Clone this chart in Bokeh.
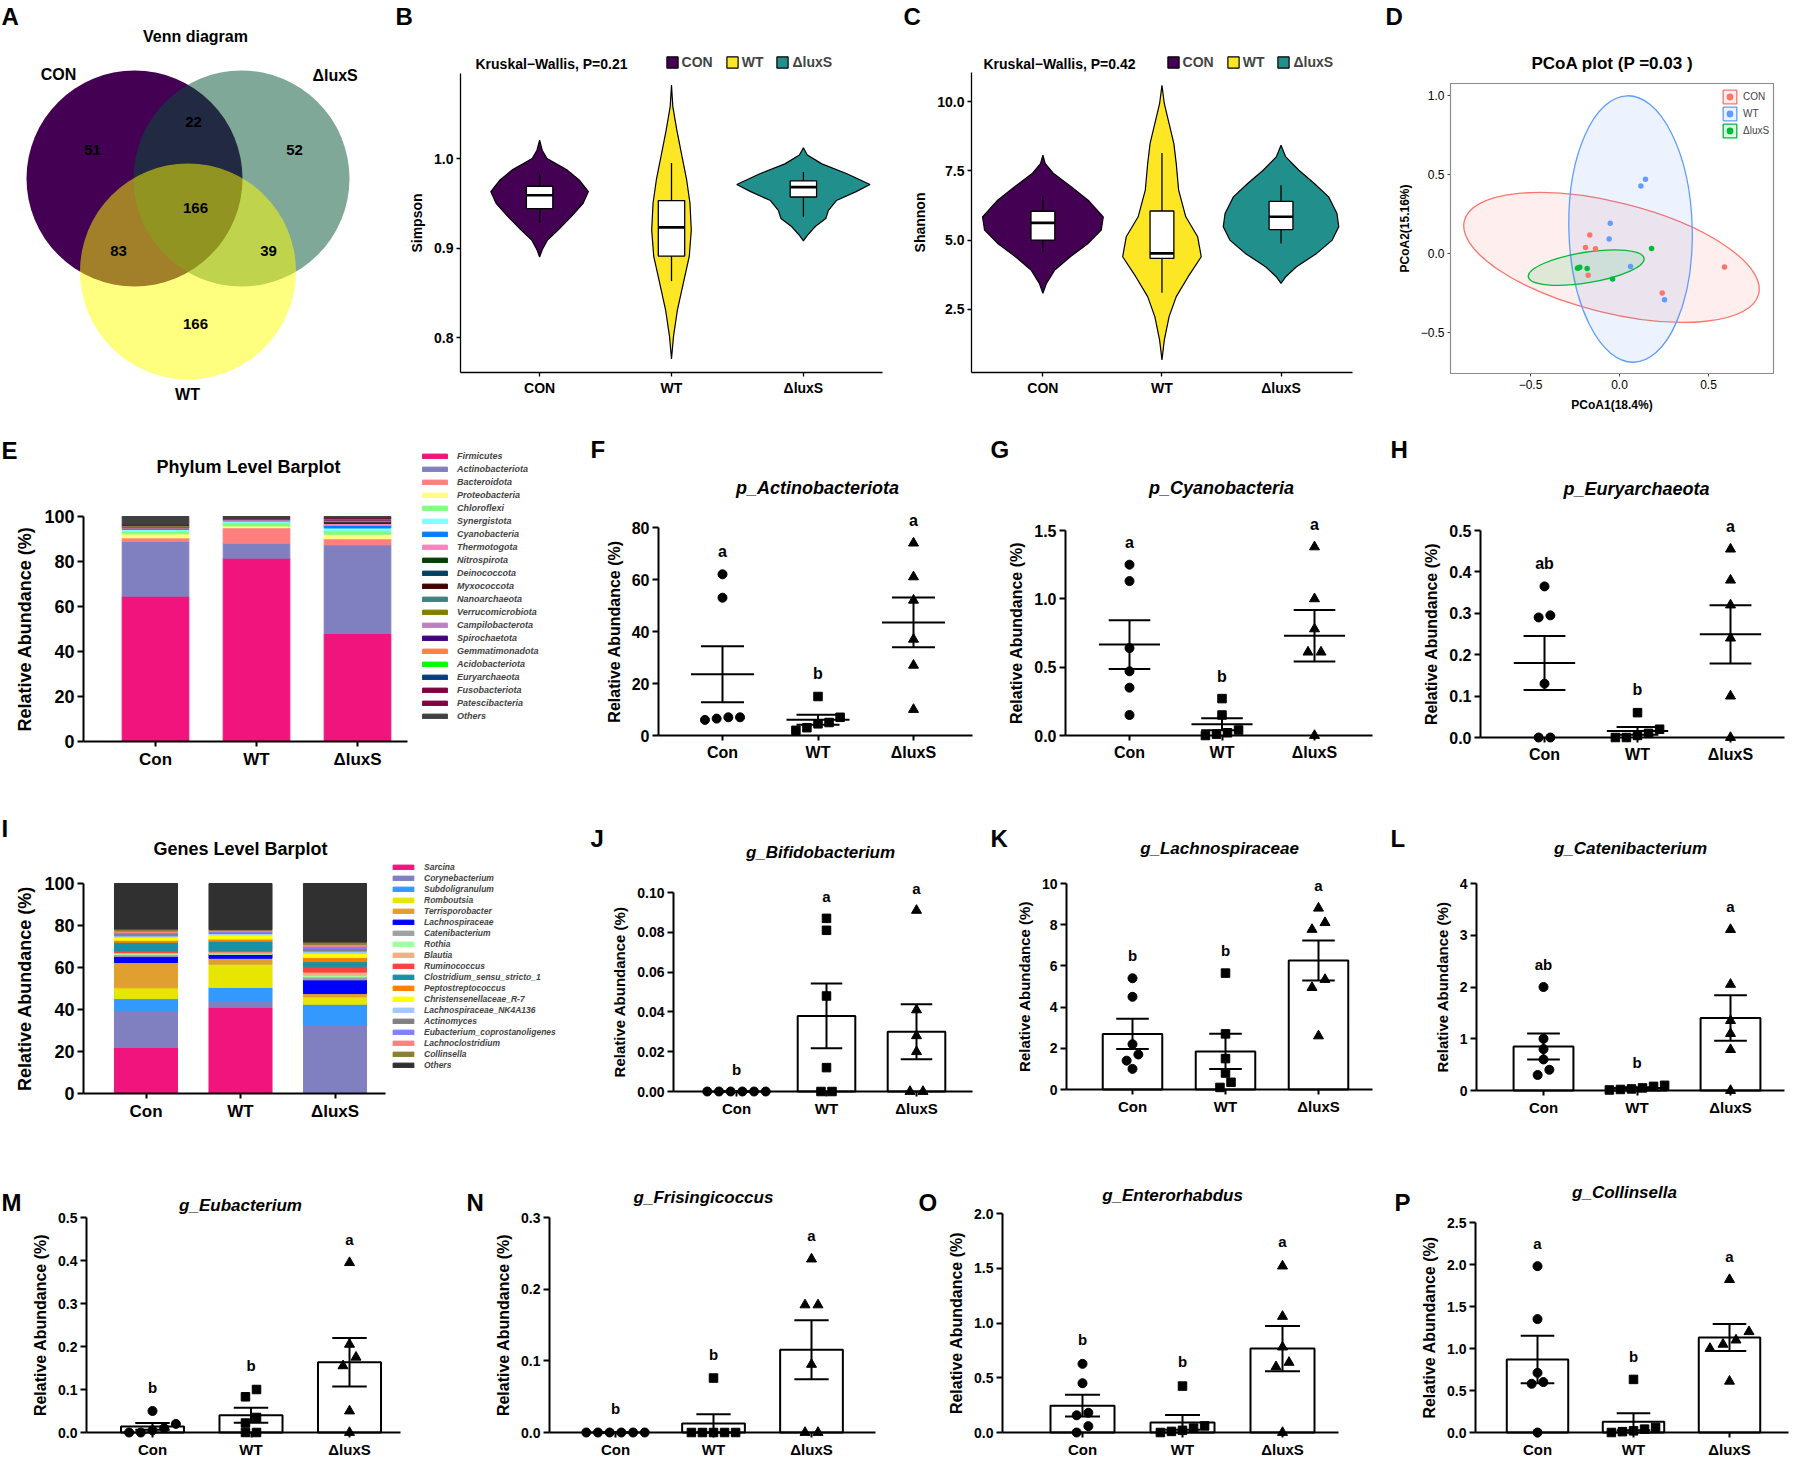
import numpy as np
from bokeh.plotting import figure
from bokeh.models import (Range1d, Label, LabelSet, Legend, LegendItem, FixedTicker,
                          BoxAnnotation, ColumnDataSource, PrintfTickFormatter)
from bokeh.layouts import row, column
from bokeh.embed import file_html
from bokeh.resources import INLINE
from bokeh.core.properties import value

FONT = "Liberation Sans"

# ====================== DATA ======================
groups_caps = ["CON", "WT", "ΔluxS"]
groups = ["Con", "WT", "ΔluxS"]
violin_colors = ["#440154", "#FDE725", "#21908C"]
pcoa_colors = ["#F8766D", "#619CFF", "#00BA38"]

# Venn diagram
venn_sets = ["CON", "ΔluxS", "WT"]
venn_set_colors = ["#440154", "#005131", "#FFFF00"]
venn_set_alpha = [1.0, 0.5, 0.5]
venn_regions = ["CON", "CON&ΔluxS", "ΔluxS", "CON&ΔluxS&WT", "CON&WT", "ΔluxS&WT", "WT"]
venn_counts = [51, 22, 52, 166, 83, 39, 166]

# Simpson violins: profile values and half widths (category units)
simpson_con_y = [1.0205, 1.0093, 1.000, 0.987, 0.976, 0.963, 0.950, 0.935, 0.920, 0.909, 0.898, 0.890]
simpson_con_w = [0, 0.02, 0.056, 0.21, 0.30, 0.37, 0.33, 0.24, 0.14, 0.06, 0.02, 0]
simpson_wt_y = [1.082, 1.058, 1.032, 1.002, 0.976, 0.950, 0.920, 0.891, 0.861, 0.831, 0.801, 0.776]
simpson_wt_w = [0, 0.01, 0.04, 0.08, 0.115, 0.14, 0.15, 0.135, 0.09, 0.045, 0.015, 0]
simpson_lux_y = [1.012, 1.004, 0.994, 0.983, 0.971, 0.963, 0.953, 0.942, 0.933, 0.924, 0.914, 0.908]
simpson_lux_w = [0, 0.03, 0.14, 0.33, 0.505, 0.40, 0.25, 0.19, 0.17, 0.09, 0.03, 0]
# box: whisker low, q1, median, q3, whisker high
simpson_box_con = [0.928, 0.944, 0.959, 0.969, 0.983]
simpson_box_wt = [0.863, 0.891, 0.923, 0.953, 0.995]
simpson_box_lux = [0.935, 0.957, 0.968, 0.975, 0.985]
simpson_p = "0.21"

shannon_con_y = [8.06, 7.76, 7.40, 6.92, 6.44, 5.84, 5.36, 4.88, 4.40, 3.92, 3.44, 3.08]
shannon_con_w = [0, 0.02, 0.09, 0.24, 0.38, 0.507, 0.49, 0.38, 0.23, 0.10, 0.03, 0]
shannon_wt_y = [10.58, 9.92, 9.20, 8.48, 7.76, 6.80, 5.84, 5.12, 4.40, 3.68, 2.96, 2.24, 1.40, 0.68]
shannon_wt_w = [0, 0.02, 0.06, 0.10, 0.12, 0.14, 0.20, 0.30, 0.33, 0.22, 0.12, 0.06, 0.02, 0]
shannon_lux_y = [8.42, 8.00, 7.52, 7.04, 6.56, 5.96, 5.48, 5.00, 4.52, 4.04, 3.68, 3.44]
shannon_lux_w = [0, 0.04, 0.15, 0.28, 0.40, 0.47, 0.485, 0.43, 0.30, 0.13, 0.04, 0]
shannon_box_con = [4.58, 5.00, 5.62, 6.04, 6.58]
shannon_box_wt = [3.10, 4.34, 4.52, 6.05, 8.14]
shannon_box_lux = [4.88, 5.38, 5.84, 6.40, 6.98]
shannon_p = "0.42"

# PCoA
pcoa_con_x = [-0.167, -0.191, -0.135, -0.176, 0.240, 0.590]
pcoa_con_y = [0.117, 0.038, 0.030, -0.138, -0.250, -0.085]
pcoa_wt_x = [0.146, 0.120, -0.052, -0.058, 0.062, 0.253]
pcoa_wt_y = [0.470, 0.428, 0.191, 0.091, -0.083, -0.292]
pcoa_lux_x = [0.180, -0.236, -0.223, -0.182, -0.039, -0.230]
pcoa_lux_y = [0.032, -0.093, -0.087, -0.095, -0.161, -0.090]
pcoa_ell_x = [-0.045, 0.062, -0.187]
pcoa_ell_y = [-0.025, 0.155, -0.089]
pcoa_ell_w = [1.704, 0.693, 0.659]
pcoa_ell_h = [0.699, 1.687, 0.193]
pcoa_ell_angle = [-0.244, 0.025, 0.16]
pcoa_p = "0.03"

# Phylum composition (%)
phylum_names = ["Firmicutes", "Actinobacteriota", "Bacteroidota", "Proteobacteria", "Chloroflexi",
                "Synergistota", "Cyanobacteria", "Thermotogota", "Nitrospirota", "Deinococcota",
                "Myxococcota", "Nanoarchaeota", "Verrucomicrobiota", "Campilobacterota",
                "Spirochaetota", "Gemmatimonadota", "Acidobacteriota", "Euryarchaeota",
                "Fusobacteriota", "Patescibacteria", "Others"]
phylum_colors = ["#F0147C", "#8080C0", "#FF7F7F", "#FFFF80", "#80FF80", "#80FFFF", "#0080FF",
                 "#FF80C0", "#004000", "#004060", "#400000", "#408080", "#808000", "#C080C0",
                 "#400080", "#FF8040", "#00FF00", "#004080", "#800040", "#800040", "#404040"]
phylum_con = [64.6, 24.3, 1.6, 1.8, 1.2, 0.8, 0.4, 0.3, 0.1, 0.1, 0.1, 0.1, 0.1, 0.2, 0.1, 0.1, 0.1, 0.1, 0.1, 0.1, 3.7]
phylum_wt = [81.5, 6.6, 6.9, 0.8, 1.6, 0.6, 0.3, 0.3, 0.1, 0.1, 0.1, 0.1, 0.1, 0.1, 0.05, 0.05, 0.05, 0.05, 0.05, 0.05, 0.5]
phylum_lux = [48.0, 39.4, 2.7, 2.0, 1.8, 1.0, 1.2, 0.8, 0.3, 0.2, 0.2, 0.2, 0.2, 0.3, 0.2, 0.2, 0.2, 0.3, 0.1, 0.1, 0.6]

# Genus composition (%)
genus_names = ["Sarcina", "Corynebacterium", "Subdoligranulum", "Romboutsia", "Terrisporobacter",
               "Lachnospiraceae", "Catenibacterium", "Rothia", "Blautia", "Ruminococcus",
               "Clostridium_sensu_stricto_1", "Peptostreptococcus", "Christensenellaceae_R-7",
               "Lachnospiraceae_NK4A136", "Actinomyces", "Eubacterium_coprostanoligenes",
               "Lachnoclostridium", "Collinsella", "Others"]
genus_colors = ["#F0147C", "#8080C0", "#3399FF", "#E6E600", "#E0A030", "#0000FF", "#A0A0A0",
                "#A0FFA0", "#F0B080", "#FF4040", "#1890A8", "#FF8000", "#FFFF00", "#A0C8FF",
                "#808080", "#8080FF", "#FF8080", "#8C7E30", "#303030"]
genus_con = [21.9, 17.5, 5.8, 5.1, 12.1, 2.8, 0.9, 0.5, 0.6, 0.8, 4.0, 1.0, 1.5, 0.6, 1.0, 0.5, 0.8, 0.9, 21.7]
genus_wt = [41.0, 3.0, 6.5, 11.1, 2.8, 1.9, 0.05, 0.3, 0.8, 0.6, 4.5, 1.0, 2.0, 0.7, 0.5, 0.5, 0.6, 0.15, 22.0]
genus_lux = [0.0, 32.5, 10.0, 3.5, 1.6, 6.5, 1.4, 0.8, 1.5, 2.5, 2.5, 2.0, 2.0, 1.0, 1.3, 1.0, 0.9, 1.1, 27.9]

# Individual relative abundances (%), 6 animals per group
actino_con = [62, 53, 7, 7, 6.5, 6]
actino_wt = [15, 7, 5, 4.5, 3, 2]
actino_lux = [74, 61, 52, 37, 27, 10]
actino_sig = ["a", "b", "a"]
cyano_con = [1.25, 1.13, 0.64, 0.47, 0.35, 0.15]
cyano_wt = [0.27, 0.15, 0.04, 0.02, 0.01, 0.0]
cyano_lux = [1.38, 1.0, 0.78, 0.61, 0.61, 0.0]
cyano_sig = ["a", "b", "a"]
eury_con = [0.365, 0.295, 0.29, 0.13, 0.0, 0.0]
eury_wt = [0.06, 0.02, 0.01, 0.005, 0.0, 0.0]
eury_lux = [0.455, 0.38, 0.32, 0.24, 0.10, 0.0]
eury_sig = ["ab", "b", "a"]
bifido_con = [0.0, 0.0, 0.0, 0.0, 0.0, 0.0]
bifido_wt = [0.087, 0.081, 0.048, 0.012, 0.0, 0.0]
bifido_lux = [0.091, 0.041, 0.028, 0.02, 0.0, 0.0]
bifido_sig = ["b", "a", "a"]
lachno_con = [5.4, 4.5, 2.2, 1.7, 1.4, 1.0]
lachno_wt = [5.65, 2.7, 1.5, 0.8, 0.35, 0.1]
lachno_lux = [8.8, 8.1, 7.77, 5.34, 4.95, 2.6]
lachno_sig = ["b", "b", "a"]
cateni_con = [2.0, 1.0, 0.8, 0.6, 0.4, 0.3]
cateni_wt = [0.1, 0.08, 0.05, 0.03, 0.02, 0.01]
cateni_lux = [3.11, 2.05, 1.35, 1.1, 0.79, 0.0]
cateni_sig = ["ab", "b", "a"]
eubac_con = [0.05, 0.02, 0.01, 0.005, 0.0, 0.0]
eubac_wt = [0.1, 0.083, 0.035, 0.022, 0.0, 0.0]
eubac_lux = [0.395, 0.205, 0.175, 0.155, 0.05, 0.0]
eubac_sig = ["b", "b", "a"]
frisin_con = [0.0, 0.0, 0.0, 0.0, 0.0, 0.0]
frisin_wt = [0.076, 0.0, 0.0, 0.0, 0.0, 0.0]
frisin_lux = [0.242, 0.178, 0.178, 0.095, 0.0, 0.0]
frisin_sig = ["b", "b", "a"]
entero_con = [0.627, 0.45, 0.18, 0.157, 0.058, 0.0]
entero_wt = [0.424, 0.06, 0.04, 0.02, 0.01, 0.0]
entero_lux = [1.52, 1.06, 0.78, 0.64, 0.60, 0.0]
entero_sig = ["b", "b", "a"]
collin_con = [1.98, 1.35, 0.71, 0.6, 0.58, 0.0]
collin_wt = [0.632, 0.06, 0.04, 0.02, 0.01, 0.0]
collin_lux = [1.82, 1.2, 1.1, 1.05, 1.0, 0.61]
collin_sig = ["a", "b", "a"]


# ====================== HELPERS ======================
class Panel:
    """A figure whose frame fills its whole canvas; fx/fy map page pixels to data units."""

    def __init__(self, box, fx, fy):
        self.box, self.fx, self.fy = box, fx, fy
        x0, y0, x1, y1 = box
        p = figure(width=x1 - x0, height=y1 - y0,
                   x_range=Range1d(fx(x0), fx(x1)), y_range=Range1d(fy(y1), fy(y0)),
                   output_backend="svg", toolbar_location=None,
                   min_border_left=0, min_border_right=0, min_border_top=0, min_border_bottom=0)
        try:
            p.frame_align = False
        except Exception:
            pass
        p.outline_line_color = None
        p.xgrid.visible = False
        p.ygrid.visible = False
        self.p = p

    def label(self, X, Y, text, size, style="bold", align="left", baseline="middle"):
        self.p.add_layout(Label(x=self.fx(X), y=self.fy(Y), text=text, text_font=FONT,
                                text_font_size=f"{size}px", text_font_style=style,
                                text_align=align, text_baseline=baseline, text_color="black"))

    def loc(self, left, bottom):
        return (left - self.box[0], self.box[3] - bottom)


def style_axis(ax, tick_px, lab_px, lw=2, tick_out=6, label_style="bold", tick_style="bold",
               line_color="black", tick_color="black"):
    ax.axis_line_width = lw
    ax.axis_line_color = line_color
    ax.major_tick_line_width = lw
    ax.major_tick_line_color = tick_color
    ax.major_tick_out = tick_out
    ax.major_tick_in = 0
    ax.minor_tick_line_color = None
    ax.major_label_text_font = FONT
    ax.major_label_text_font_style = tick_style
    ax.major_label_text_font_size = f"{tick_px}px"
    ax.major_label_text_color = "black"
    ax.major_label_standoff = 3
    ax.axis_label_text_font = FONT
    ax.axis_label_text_font_style = label_style
    ax.axis_label_text_font_size = f"{lab_px}px"
    ax.axis_label_text_color = "black"
    ax.axis_label_standoff = 6


def place_axes(P, frame):
    fx0, fy0, fx1, fy1 = frame
    P.p.yaxis.fixed_location = P.fx(fx0)
    P.p.yaxis.bounds = (P.fy(fy1), P.fy(fy0))
    P.p.xaxis.fixed_location = P.fy(fy1)
    P.p.xaxis.bounds = (P.fx(fx0), P.fx(fx1))


def swarm_offsets(vals, ppu, spacing_px, size):
    vals = np.asarray(vals, float)
    order = list(np.argsort(vals, kind="stable"))
    offs = np.zeros(len(vals))
    clusters, cur = [], [order[0]]
    for a, b in zip(order[:-1], order[1:]):
        if (vals[b] - vals[a]) * ppu < size * 0.9:
            cur.append(b)
        else:
            clusters.append(cur)
            cur = [b]
    clusters.append(cur)
    step = size * 1.3 / spacing_px
    for cl in clusters:
        n = len(cl)
        for k, idx in enumerate(cl):
            offs[idx] = (k - (n - 1) / 2) * step
    return offs


# ====================== A: Venn ======================
PA = Panel((0, 0, 390, 420), lambda X: X, lambda Y: Y)
pA = PA.p
pA.axis.visible = False
venn_cx = [134, 241, 187.5]
venn_cy = [178, 178, 271]
for i in range(3):
    pA.circle(x=[venn_cx[i]], y=[venn_cy[i]], radius=108, fill_color=venn_set_colors[i],
              fill_alpha=venn_set_alpha[i], line_color=None)
venn_lx = [92, 193, 294, 195, 118, 268, 195]
venn_ly = [149, 121, 149, 207, 250, 250, 323]
pA.add_layout(LabelSet(x="x", y="y", text="t",
                       source=ColumnDataSource(dict(x=venn_lx, y=venn_ly, t=[str(c) for c in venn_counts])),
                       text_font=value(FONT), text_font_size=value("15px"), text_font_style="bold",
                       text_align="center", text_baseline="middle", text_color="black"))
PA.label(1, 16, "A", 24)
PA.label(195, 36, "Venn diagram", 16, align="center")
PA.label(58, 74, venn_sets[0], 16, align="center")
PA.label(312, 75, venn_sets[1], 16)
PA.label(187, 394, venn_sets[2], 16, align="center")


# ====================== B, C: violins ======================
def violin_panel(P, frame, profiles, boxes, ticks, ylabel, pval, title_x, legend_left, letter, letter_x):
    p = P.p
    rends = []
    for i, ((ys, ws), col) in enumerate(zip(profiles, violin_colors)):
        c = i + 1
        xs = [c + w for w in ws] + [c - w for w in reversed(ws)]
        yy = list(ys) + list(reversed(ys))
        rends.append(p.patch(xs, yy, fill_color=col, line_color="black", line_width=1.2))
    for i, b in enumerate(boxes):
        c = i + 1
        lo, q1, med, q3, hi = b
        p.segment(x0=[c, c], y0=[q3, q1], x1=[c, c], y1=[hi, lo], line_color="black", line_width=1.3)
        p.quad(left=[c - 0.1], right=[c + 0.1], bottom=[q1], top=[q3], fill_color="white",
               line_color="black", line_width=1.3)
        p.segment(x0=[c - 0.1], y0=[med], x1=[c + 0.1], y1=[med], line_color="black", line_width=2.6)
    for ax in p.axis:
        style_axis(ax, 14, 14, lw=1.3, tick_out=4)
    place_axes(P, frame)
    p.xaxis.ticker = FixedTicker(ticks=[1, 2, 3])
    p.xaxis.major_label_overrides = {1: groups_caps[0], 2: groups_caps[1], 3: groups_caps[2]}
    p.yaxis.ticker = FixedTicker(ticks=ticks)
    p.yaxis.formatter = PrintfTickFormatter(format="%.1f")
    p.yaxis.axis_label = ylabel
    leg = Legend(items=[LegendItem(label=g, renderers=[r]) for g, r in zip(groups_caps, rends)],
                 location=P.loc(legend_left, 70), orientation="horizontal", glyph_width=14,
                 glyph_height=14, label_height=14, label_standoff=3, spacing=12, padding=0, margin=0,
                 border_line_color=None, background_fill_alpha=0,
                 label_text_font=FONT, label_text_font_size="14px", label_text_font_style="bold")
    p.add_layout(leg)
    P.label(title_x, 63, "Kruskal−Wallis, P=" + pval, 14)
    P.label(letter_x, 16, letter, 24)


PB = Panel((390, 0, 900, 420), lambda X: 1 + (X - 539.1) / 131.9, lambda Y: 1.0 + (158 - Y) / 895.0)
violin_panel(PB, (460, 73, 882, 372),
             [(simpson_con_y, simpson_con_w), (simpson_wt_y, simpson_wt_w), (simpson_lux_y, simpson_lux_w)],
             [simpson_box_con, simpson_box_wt, simpson_box_lux], [0.8, 0.9, 1.0], "Simpson",
             simpson_p, 475, 664.6, "B", 395)
PC = Panel((900, 0, 1380, 420), lambda X: 1 + (X - 1042.4) / 119.06, lambda Y: 10 + (101 - Y) / 27.72)
violin_panel(PC, (971, 72, 1352, 372),
             [(shannon_con_y, shannon_con_w), (shannon_wt_y, shannon_wt_w), (shannon_lux_y, shannon_lux_w)],
             [shannon_box_con, shannon_box_wt, shannon_box_lux], [2.5, 5.0, 7.5, 10.0], "Shannon",
             shannon_p, 983, 1165.6, "C", 903)

# ====================== D: PCoA ======================
PD = Panel((1380, 0, 1791, 420), lambda X: (X - 1619) / 178.0, lambda Y: (253 - Y) / 158.0)
pD = PD.p
nan = float("nan")
for i in range(3):
    pD.ellipse(x=[pcoa_ell_x[i]], y=[pcoa_ell_y[i]], width=pcoa_ell_w[i], height=pcoa_ell_h[i],
               angle=pcoa_ell_angle[i], fill_color=pcoa_colors[i], fill_alpha=0.12,
               line_color=pcoa_colors[i], line_width=1.3)
pts = [(pcoa_con_x, pcoa_con_y), (pcoa_wt_x, pcoa_wt_y), (pcoa_lux_x, pcoa_lux_y)]
items = []
for i, (xs, ys) in enumerate(pts):
    rb = pD.quad(left=[nan], right=[nan], top=[nan], bottom=[nan], fill_color=pcoa_colors[i],
                 fill_alpha=0.12, line_color=pcoa_colors[i], line_width=1.3)
    rp = pD.scatter(x=xs, y=ys, marker="circle", size=5.5, fill_color=pcoa_colors[i], line_color=None)
    items.append(LegendItem(label=groups_caps[i], renderers=[rb, rp]))
pD.add_layout(Legend(items=items, location=PD.loc(1721, 139), glyph_width=17, glyph_height=17,
                     label_height=17, spacing=0, padding=0, margin=0, label_standoff=5,
                     border_line_color=None, background_fill_alpha=0, label_text_font=FONT,
                     label_text_font_size="10px"))
pD.add_layout(BoxAnnotation(left=PD.fx(1450), right=PD.fx(1773), bottom=PD.fy(373), top=PD.fy(83),
                            fill_alpha=0, line_color="#8c8c8c", line_alpha=1, line_width=1.2))
for ax in pD.axis:
    style_axis(ax, 12, 12, lw=1, tick_out=3, tick_style="normal", line_color=None, tick_color="#444444")
place_axes(PD, (1450, 83, 1773, 373))
pD.yaxis.ticker = FixedTicker(ticks=[-0.5, 0.0, 0.5, 1.0])
pD.xaxis.ticker = FixedTicker(ticks=[-0.5, 0.0, 0.5])
pD.yaxis.major_label_overrides = {-0.5: "−0.5", 0: "0.0", 0.5: "0.5", 1: "1.0"}
pD.xaxis.major_label_overrides = {-0.5: "−0.5", 0: "0.0", 0.5: "0.5"}
pD.yaxis.axis_label = "PCoA2(15.16%)"
pD.xaxis.axis_label = "PCoA1(18.4%)"
PD.label(1612, 63, "PCoA plot (P =" + pcoa_p + " )", 17, align="center")
PD.label(1385, 16, "D", 24)


# ====================== E, I: stacked bars ======================
def stack_panel(P, frame, names, colors, vals, bar_w, title, title_xy, letter, letter_xy,
                leg_left, leg_bottom, glyph_w, label_h, leg_font, leg_standoff):
    p = P.p
    data = dict(x=[1, 2, 3])
    for k, n in enumerate(names):
        data[n] = [vals[0][k], vals[1][k], vals[2][k]]
    rs = p.vbar_stack(names, x="x", width=bar_w, color=colors, source=ColumnDataSource(data))
    for ax in p.axis:
        style_axis(ax, 18, 18, lw=2, tick_out=6)
    place_axes(P, frame)
    p.xaxis.ticker = FixedTicker(ticks=[1, 2, 3])
    p.xaxis.major_label_overrides = {1: groups[0], 2: groups[1], 3: groups[2]}
    p.xaxis.major_label_text_font_size = "17px"
    p.xaxis.major_tick_out = 5
    p.yaxis.ticker = FixedTicker(ticks=[0, 20, 40, 60, 80, 100])
    p.yaxis.formatter = PrintfTickFormatter(format="%d")
    p.yaxis.axis_label = "Relative Abundance (%)"
    leg = Legend(items=[LegendItem(label=n, renderers=[r]) for n, r in zip(names, rs)],
                 location=P.loc(leg_left, leg_bottom), glyph_width=glyph_w, glyph_height=6,
                 label_height=label_h, spacing=0, padding=0, margin=0, label_standoff=leg_standoff,
                 border_line_color=None, background_fill_alpha=0, label_text_font=FONT,
                 label_text_font_size=leg_font, label_text_font_style="bold italic")
    p.add_layout(leg)
    P.label(title_xy[0], title_xy[1], title, 18, align="center")
    P.label(letter_xy[0], letter_xy[1], letter, 24)


PE = Panel((0, 420, 590, 775), lambda X: 1 + (X - 155) / 101.0, lambda Y: (741 - Y) / 2.25)
stack_panel(PE, (83, 516, 407, 741), phylum_names, phylum_colors, [phylum_con, phylum_wt, phylum_lux],
            0.66, "Phylum Level Barplot", (248, 466), "E", (1, 450), 419, 722, 31, 13, "9px", 7)
PI = Panel((0, 775, 590, 1122), lambda X: 1 + (X - 145.5) / 94.5, lambda Y: (1093 - Y) / 2.1)
stack_panel(PI, (83, 883, 385, 1093), genus_names, genus_colors, [genus_con, genus_wt, genus_lux],
            0.667, "Genes Level Barplot", (240, 848), "I", (1, 828), 390, 1070, 26, 11, "8.5px", 8)


# ====================== dot / bar panels ======================
def dot_panel(box, axis_x, x_end, first_cat, spacing, y_top, y_zero, y_max, y_step, fmt,
              series, sig, bars, title, title_xy, letter, letter_xy, fonts):
    ppu = (y_zero - y_top) / y_max
    P = Panel(box, lambda X: 1 + (X - first_cat) / spacing, lambda Y: (y_zero - Y) / ppu)
    p = P.p
    for ax in p.axis:
        style_axis(ax, fonts["tick"], fonts["ylab"], lw=2, tick_out=6)
    place_axes(P, (axis_x, y_top, x_end, y_zero))
    yax = p.yaxis[0]
    yax.ticker = FixedTicker(ticks=[round(v, 6) for v in np.arange(0, y_max + y_step / 2, y_step)])
    yax.formatter = PrintfTickFormatter(format=fmt)
    yax.axis_label = "Relative Abundance (%)"
    xax = p.xaxis[0]
    xax.ticker = FixedTicker(ticks=[1, 2, 3])
    xax.major_label_overrides = {1: groups[0], 2: groups[1], 3: groups[2]}
    xax.major_label_text_font_size = f"{fonts['xlab']}px"
    xax.major_tick_out = 5
    cats = [1, 2, 3]
    means = [float(np.mean(s)) for s in series]
    sems = [float(np.std(s, ddof=1) / np.sqrt(len(s))) for s in series]
    if bars:
        p.vbar(x=cats, top=means, bottom=0, width=0.64, fill_color="white",
               line_color="black", line_width=2)
    markers = ["circle", "square", "triangle"]
    sizes = [9, 8.5, 10]
    for i, s in enumerate(series):
        offs = swarm_offsets(s, ppu, spacing, sizes[i])
        p.scatter(x=list(cats[i] + offs), y=list(s), marker=markers[i], size=sizes[i],
                  fill_color="black", line_color="black")
    cw = 0.35 if bars else 0.45
    lo = [m - e for m, e in zip(means, sems)]
    hi = [m + e for m, e in zip(means, sems)]
    p.segment(x0=cats, y0=lo, x1=cats, y1=hi, line_color="black", line_width=2)
    p.segment(x0=[c - cw / 2 for c in cats], y0=hi, x1=[c + cw / 2 for c in cats], y1=hi,
              line_color="black", line_width=2)
    p.segment(x0=[c - cw / 2 for c in cats], y0=lo, x1=[c + cw / 2 for c in cats], y1=lo,
              line_color="black", line_width=2)
    if not bars:
        p.segment(x0=[c - 0.33 for c in cats], y0=means, x1=[c + 0.33 for c in cats], y1=means,
                  line_color="black", line_width=2)
    sig_y = [max(max(s), h) + 0.11 * y_max for s, h in zip(series, hi)]
    p.add_layout(LabelSet(x="x", y="y", text="t", source=ColumnDataSource(dict(x=cats, y=sig_y, t=sig)),
                          text_font=value(FONT), text_font_size=value(f"{fonts['sig']}px"),
                          text_font_style="bold", text_align="center", text_baseline="middle",
                          text_color="black"))
    P.label(title_xy[0], title_xy[1], title, fonts["title"], style="bold italic", align="center")
    P.label(letter_xy[0], letter_xy[1], letter, 24)
    return p


f2 = dict(tick=16, ylab=16, xlab=16, title=18, sig=16)
f3 = dict(tick=14, ylab=15, xlab=15, title=17, sig=15)
f4 = dict(tick=14, ylab=16, xlab=15, title=17, sig=15)

pF = dot_panel((590, 420, 990, 775), 658, 972, 722, 95.5, 527, 735, 80, 20, "%d",
               [actino_con, actino_wt, actino_lux], actino_sig, False, "p_Actinobacteriota",
               (817, 487), "F", (590, 449), f2)
pG = dot_panel((990, 420, 1390, 775), 1065, 1372, 1129, 92.5, 530, 735, 1.5, 0.5, "%.1f",
               [cyano_con, cyano_wt, cyano_lux], cyano_sig, False, "p_Cyanobacteria",
               (1221, 487), "G", (990, 449), f2)
pH = dot_panel((1390, 420, 1791, 775), 1480, 1784, 1544, 93, 530, 737, 0.5, 0.1, "%.1f",
               [eury_con, eury_wt, eury_lux], eury_sig, False, "p_Euryarchaeota",
               (1636, 488), "H", (1390, 449), f2)

pJ = dot_panel((590, 775, 990, 1122), 673, 972, 736, 90, 892, 1091, 0.10, 0.02, "%.2f",
               [bifido_con, bifido_wt, bifido_lux], bifido_sig, True, "g_Bifidobacterium",
               (820, 852), "J", (590, 838), f3)
pK = dot_panel((990, 775, 1390, 1122), 1066, 1372, 1132, 93, 883, 1089, 10, 2, "%d",
               [lachno_con, lachno_wt, lachno_lux], lachno_sig, True, "g_Lachnospiraceae",
               (1219, 848), "K", (990, 838), f3)
pL = dot_panel((1390, 775, 1791, 1122), 1476, 1784, 1543, 93.5, 883, 1090, 4, 1, "%d",
               [cateni_con, cateni_wt, cateni_lux], cateni_sig, True, "g_Catenibacterium",
               (1630, 848), "L", (1390, 838), f3)

pM = dot_panel((0, 1122, 465, 1458), 86, 400, 152, 98.5, 1217, 1432, 0.5, 0.1, "%.1f",
               [eubac_con, eubac_wt, eubac_lux], eubac_sig, True, "g_Eubacterium",
               (240, 1205), "M", (1, 1202), f4)
pN = dot_panel((465, 1122, 915, 1458), 549, 875, 615, 98, 1217, 1432, 0.3, 0.1, "%.1f",
               [frisin_con, frisin_wt, frisin_lux], frisin_sig, True, "g_Frisingicoccus",
               (703, 1197), "N", (466, 1202), f4)
pO = dot_panel((915, 1122, 1390, 1458), 1002, 1338, 1082, 100, 1213, 1432, 2.0, 0.5, "%.1f",
               [entero_con, entero_wt, entero_lux], entero_sig, True, "g_Enterorhabdus",
               (1172, 1195), "O", (918, 1202), f4)
pP = dot_panel((1390, 1122, 1791, 1458), 1475, 1788, 1537, 96, 1222, 1432, 2.5, 0.5, "%.1f",
               [collin_con, collin_wt, collin_lux], collin_sig, True, "g_Collinsella",
               (1624, 1192), "P", (1394, 1202), f4)

layout = column(row(pA, PB.p, PC.p, pD), row(PE.p, pF, pG, pH), row(PI.p, pJ, pK, pL),
                row(pM, pN, pO, pP))

with open("out.html", "w") as fh:
    fh.write(file_html(layout, INLINE))
